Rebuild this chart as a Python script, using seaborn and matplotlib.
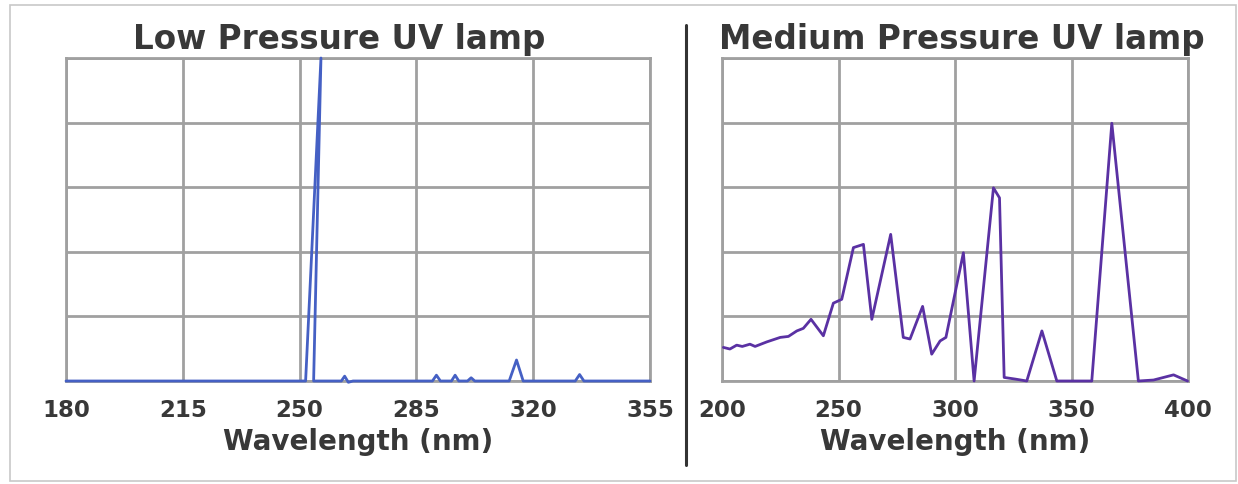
import matplotlib
matplotlib.use("Agg")
import matplotlib.pyplot as plt
from matplotlib.lines import Line2D
from matplotlib.patches import Rectangle
import seaborn as sns
import pandas as pd

# Low pressure lamp: nearly monochromatic 254 nm line plus weak minor lines
low_wavelength = [180, 215, 250, 251.8, 256.4, 254.2, 262.5, 263.5, 264.6, 266,
                  289.8, 291.0, 292.2, 295.5, 296.6, 297.7, 300.3, 301.4, 302.5,
                  312.8, 315.0, 317.0, 332.6, 333.9, 335.2, 355]
low_intensity = [0, 0, 0, 0, 100, 0, 0, 1.5, -0.4, 0,
                 0, 1.8, 0, 0, 1.8, 0, 0, 1.0, 0,
                 0, 6.5, 0, 0, 2.0, 0, 0]

# Medium pressure lamp: broadband polychromatic output
med_wavelength = [200.6, 203.4, 206.3, 208.7, 212.0, 214.2, 219.2, 225.0, 228.5,
                  232.1, 234.9, 238.2, 243.5, 247.8, 251.4, 256.4, 260.7, 264.3,
                  272.4, 277.8, 280.7, 286.1, 290.0, 293.6, 296.1, 303.6, 308.2,
                  316.5, 319.1, 321.1, 325.8, 330.8, 337.3, 343.7, 358.7, 367.3,
                  378.7, 385.2, 393.8, 399.8]
med_intensity = [10.4, 9.9, 11.1, 10.7, 11.4, 10.7, 12.1, 13.5, 13.8,
                 15.5, 16.3, 19.1, 14.0, 24.1, 25.3, 41.3, 42.3, 19.1,
                 45.4, 13.5, 13.0, 23.1, 8.3, 12.4, 13.5, 39.7, 0.0,
                 59.8, 56.7, 1.1, 0.6, 0.0, 15.5, 0.0, 0.0, 79.8,
                 0.0, 0.3, 1.9, 0.0]

low_ticks = [180, 215, 250, 285, 320, 355]
med_ticks = [200, 250, 300, 350, 400]
y_grid = [0, 20, 40, 60, 80, 100]

titles = ["Low Pressure UV lamp", "Medium Pressure UV lamp"]
x_label = "Wavelength (nm)"

sns.set_theme(style="white")
plt.rcParams["font.family"] = ["DejaVu Sans"]

W, H = 1238, 484
fig = plt.figure(figsize=(W / 100, H / 100), dpi=100)
fig.patch.set_facecolor("white")

grid_color = "#a0a0a0"
text_color = "#383838"

ax_low = fig.add_axes([66 / W, 1 - 381 / H, (650 - 66) / W, (381 - 58) / H])
ax_med = fig.add_axes([722 / W, 1 - 381 / H, (1188 - 722) / W, (381 - 58) / H])

low_df = pd.DataFrame({"nm": low_wavelength, "val": low_intensity})
med_df = pd.DataFrame({"nm": med_wavelength, "val": med_intensity})

sns.lineplot(data=low_df, x="nm", y="val", ax=ax_low, sort=False, estimator=None,
             color="#4560c4", linewidth=2.0, clip_on=False, zorder=5)
sns.lineplot(data=med_df, x="nm", y="val", ax=ax_med, sort=False, estimator=None,
             color="#5a31a3", linewidth=2.0, clip_on=False, zorder=5)

for ax, ticks in ((ax_low, low_ticks), (ax_med, med_ticks)):
    ax.set_xlim(ticks[0], ticks[-1])
    ax.set_ylim(0, 100)
    ax.set_xticks(ticks)
    ax.set_xticklabels([str(t) for t in ticks], fontsize=16.5, fontweight="bold",
                       color=text_color)
    ax.set_yticks(y_grid)
    ax.set_yticklabels([])
    ax.tick_params(axis="both", length=0)
    ax.tick_params(axis="x", pad=13)
    ax.grid(True, color=grid_color, linewidth=2.0)
    for sp in ax.spines.values():
        sp.set_visible(True)
        sp.set_color(grid_color)
        sp.set_linewidth(2.0)
    ax.set_xlabel(x_label, fontsize=20, fontweight="bold", color=text_color,
                  labelpad=4)
    ax.set_ylabel("")
    ax.set_facecolor("white")

fig.text(339 / W, 1 - 39 / H, titles[0], ha="center", va="center",
         fontsize=23.5, fontweight="bold", color=text_color)
fig.text(962 / W, 1 - 39 / H, titles[1], ha="center", va="center",
         fontsize=23.5, fontweight="bold", color=text_color)

# divider between the two panels
fig.add_artist(Line2D([686 / W, 686 / W], [1 - 25 / H, 1 - 465 / H],
                      transform=fig.transFigure, color="#333333", linewidth=2.2))

# thin outer frame
fig.add_artist(Rectangle((10 / W, 1 - 481 / H), (1236 - 10) / W, (481 - 5) / H,
                         transform=fig.transFigure, fill=False,
                         edgecolor="#c8c8c8", linewidth=1.2))

fig.savefig("out.png", dpi=100, facecolor="white")
